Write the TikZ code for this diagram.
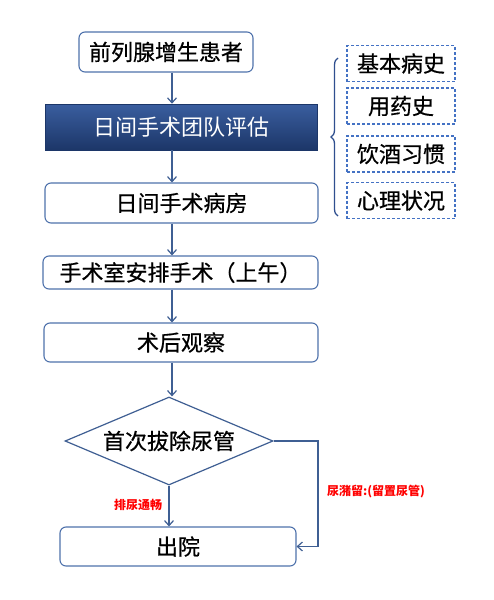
\documentclass[tikz,border=0pt]{standalone}
\usepackage{fontspec}
\setmainfont{Liberation Sans}
\newfontfamily\cjk[FakeBold=0.6]{Noto Sans CJK SC}
\newfontfamily\cjkb{Noto Sans CJK SC}
\usetikzlibrary{shapes.geometric,arrows.meta,decorations.pathreplacing,calc}
\definecolor{bordc}{HTML}{4F72AC}
\definecolor{arrc}{HTML}{3F5F93}
\definecolor{dashc}{HTML}{4472C4}
\definecolor{navytop}{HTML}{3A5E9F}
\definecolor{navybot}{HTML}{1C3668}
\definecolor{bracec}{HTML}{2F4F8F}
\definecolor{redc}{HTML}{FF0000}
\begin{document}
\begin{tikzpicture}[x=1pt,y=-1pt,
  box/.style={draw=bordc,line width=1.1pt,rounded corners=6pt,fill=white,inner sep=0pt,
    font=\cjk\fontsize{22}{26}\selectfont,text=black},
  navybox/.style={inner sep=0pt,top color=navytop,bottom color=navybot,draw=navybot,line width=0.6pt,
    font=\cjkb\fontsize{22}{26}\selectfont,text=white},
  dbox/.style={draw=dashc,dash pattern=on 3pt off 2pt,line width=1.2pt,inner sep=0pt,
    minimum width=108pt,minimum height=36pt,font=\cjk\fontsize{22}{26}\selectfont,text=black},
  dia/.style={shape=diamond,draw=arrc,line width=1.2pt,inner sep=0pt,aspect=2.36,
    minimum width=208pt,minimum height=88pt,font=\cjk\fontsize{22}{26}\selectfont,text=black},
  arr/.style={draw=arrc,line width=1.2pt,-{Straight Barb[length=5pt,width=9pt,line width=1.2pt]}},
  lbl/.style={text=redc,font=\cjkb\bfseries\fontsize{12}{14}\selectfont,inner sep=0pt}
]
\useasboundingbox (0,0) rectangle (493,600);
\fill[white] (0,0) rectangle (493,600);

\node[box,minimum width=174pt,minimum height=40pt] (n1) at (166,52) {前列腺增生患者};
\node[navybox,minimum width=272pt,minimum height=46pt] (n2) at (181,127) {日间手术团队评估};
\node[box,minimum width=273pt,minimum height=40pt] (n3) at (181.5,203) {日间手术病房};
\node[box,minimum width=275pt,minimum height=33pt] (n4) at (180.5,272.5) {手术室安排手术（上午）};
\node[box,minimum width=274pt,minimum height=39pt] (n5) at (181,342.5) {术后观察};
\node[dia] (d) at (169,441) {首次拔除尿管};
\node[box,minimum width=236pt,minimum height=39pt] (n6) at (178,546.5) {出院};

\node[dbox] (a) at (401,63.5) {基本病史};
\node[dbox] (b) at (401,106) {用药史};
\node[dbox] (c) at (401,154) {饮酒习惯};
\node[dbox] (e) at (401,200.5) {心理状况};

\coordinate (xa) at (172,0);
\coordinate (xd) at (169,0);
\coordinate (rx) at (318,0);

\draw[arr] (n1.south -| xa) -- (n2.north -| xa);
\draw[arr] (n2.south -| xa) -- (n3.north -| xa);
\draw[arr] (n3.south -| xa) -- (n4.north -| xa);
\draw[arr] (n4.south -| xa) -- (n5.north -| xa);
\draw[arr] (n5.south -| xa) -- (d.north -| xa);
\draw[arr] (d.south) -- (n6.north -| xd);
\draw[arr] (d.east) -- (d.east -| rx) |- (n6.east);

\node[lbl] (l1) at (138,505) {排尿通畅};
\node[lbl,anchor=west] (l2) at (327,492) {尿潴留:(留置尿管)};

\coordinate (bt) at (338,58);
\coordinate (bb) at (338,216);
\draw[bracec,line width=1.3pt,decorate,decoration={brace,amplitude=7pt}] (bb) -- (bt);
\end{tikzpicture}
\end{document}
